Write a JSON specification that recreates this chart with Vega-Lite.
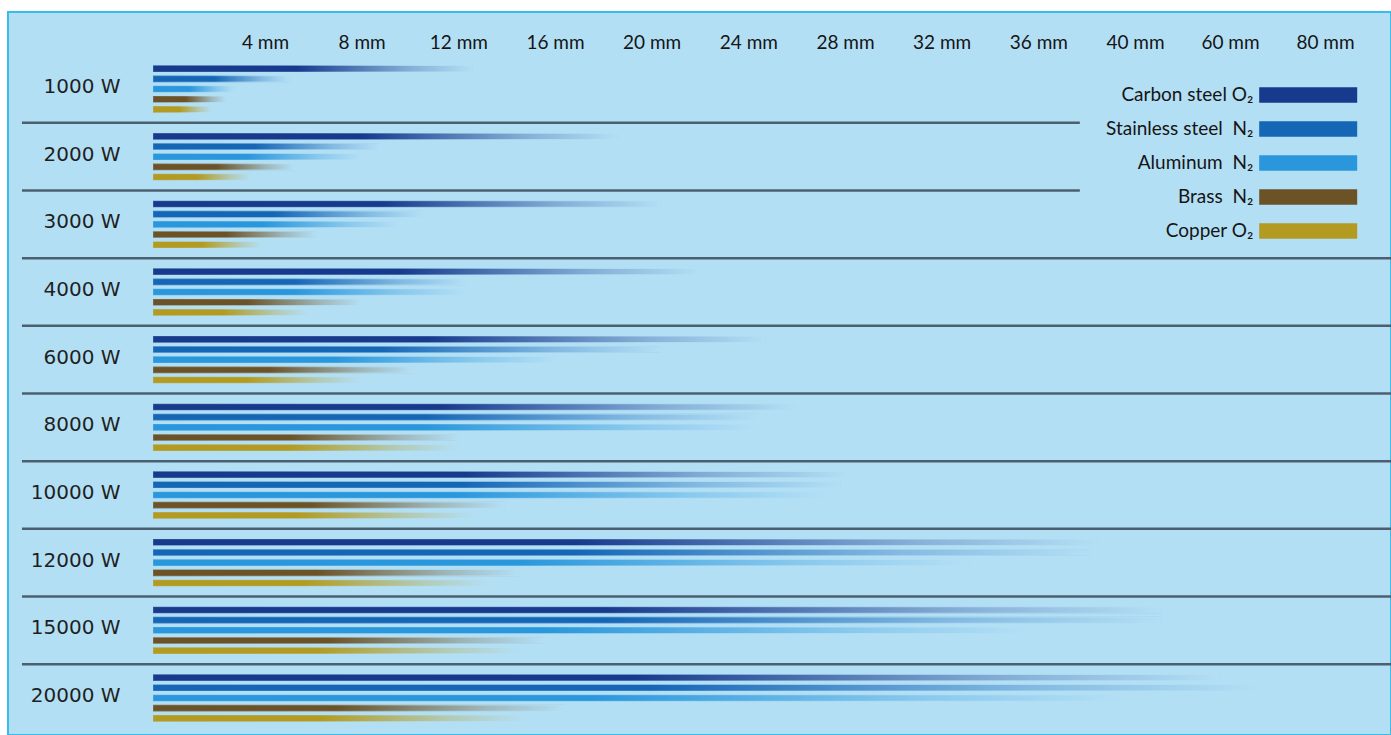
{
  "$schema": "https://vega.github.io/schema/vega-lite/v6.json",
  "width": 1383,
  "height": 723,
  "autosize": {"type": "none"},
  "padding": {"left": 8, "top": 12, "right": 0, "bottom": 0},
  "background": "white",
  "config": {
    "view": {"fill": "#b3dff5", "stroke": "#38bce9", "strokeWidth": 2},
    "axis": {"domain": false, "ticks": false, "grid": false, "title": null}
  },
  "datasets": {
    "cuts": [
      {"power": "1000 W", "material": "Carbon steel O\u2082", "mm": 12.6},
      {"power": "1000 W", "material": "Stainless steel\u00a0 N\u2082", "mm": 5.0},
      {"power": "1000 W", "material": "Aluminum\u00a0 N\u2082", "mm": 2.9},
      {"power": "1000 W", "material": "Brass\u00a0 N\u2082", "mm": 2.6},
      {"power": "1000 W", "material": "Copper O\u2082", "mm": 2.1},
      {"power": "2000 W", "material": "Carbon steel O\u2082", "mm": 18.6},
      {"power": "2000 W", "material": "Stainless steel\u00a0 N\u2082", "mm": 8.7},
      {"power": "2000 W", "material": "Aluminum\u00a0 N\u2082", "mm": 8.0},
      {"power": "2000 W", "material": "Brass\u00a0 N\u2082", "mm": 5.2},
      {"power": "2000 W", "material": "Copper O\u2082", "mm": 3.5},
      {"power": "3000 W", "material": "Carbon steel O\u2082", "mm": 20.4},
      {"power": "3000 W", "material": "Stainless steel\u00a0 N\u2082", "mm": 10.5},
      {"power": "3000 W", "material": "Aluminum\u00a0 N\u2082", "mm": 9.5},
      {"power": "3000 W", "material": "Brass\u00a0 N\u2082", "mm": 6.1},
      {"power": "3000 W", "material": "Copper O\u2082", "mm": 3.9},
      {"power": "4000 W", "material": "Carbon steel O\u2082", "mm": 22.0},
      {"power": "4000 W", "material": "Stainless steel\u00a0 N\u2082", "mm": 12.3},
      {"power": "4000 W", "material": "Aluminum\u00a0 N\u2082", "mm": 12.3},
      {"power": "4000 W", "material": "Brass\u00a0 N\u2082", "mm": 8.0},
      {"power": "4000 W", "material": "Copper O\u2082", "mm": 5.8},
      {"power": "6000 W", "material": "Carbon steel O\u2082", "mm": 24.7},
      {"power": "6000 W", "material": "Stainless steel\u00a0 N\u2082", "mm": 20.4},
      {"power": "6000 W", "material": "Aluminum\u00a0 N\u2082", "mm": 16.1},
      {"power": "6000 W", "material": "Brass\u00a0 N\u2082", "mm": 10.1},
      {"power": "6000 W", "material": "Copper O\u2082", "mm": 8.0},
      {"power": "8000 W", "material": "Carbon steel O\u2082", "mm": 25.9},
      {"power": "8000 W", "material": "Stainless steel\u00a0 N\u2082", "mm": 24.4},
      {"power": "8000 W", "material": "Aluminum\u00a0 N\u2082", "mm": 24.3},
      {"power": "8000 W", "material": "Brass\u00a0 N\u2082", "mm": 12.0},
      {"power": "8000 W", "material": "Copper O\u2082", "mm": 12.0},
      {"power": "10000 W", "material": "Carbon steel O\u2082", "mm": 28.1},
      {"power": "10000 W", "material": "Stainless steel\u00a0 N\u2082", "mm": 27.8},
      {"power": "10000 W", "material": "Aluminum\u00a0 N\u2082", "mm": 27.2},
      {"power": "10000 W", "material": "Brass\u00a0 N\u2082", "mm": 13.9},
      {"power": "10000 W", "material": "Copper O\u2082", "mm": 12.7},
      {"power": "12000 W", "material": "Carbon steel O\u2082", "mm": 38.4},
      {"power": "12000 W", "material": "Stainless steel\u00a0 N\u2082", "mm": 38.1},
      {"power": "12000 W", "material": "Aluminum\u00a0 N\u2082", "mm": 33.1},
      {"power": "12000 W", "material": "Brass\u00a0 N\u2082", "mm": 14.5},
      {"power": "12000 W", "material": "Copper O\u2082", "mm": 13.3},
      {"power": "15000 W", "material": "Carbon steel O\u2082", "mm": 45.5},
      {"power": "15000 W", "material": "Stainless steel\u00a0 N\u2082", "mm": 45.5},
      {"power": "15000 W", "material": "Aluminum\u00a0 N\u2082", "mm": 35.6},
      {"power": "15000 W", "material": "Brass\u00a0 N\u2082", "mm": 15.5},
      {"power": "15000 W", "material": "Copper O\u2082", "mm": 14.5},
      {"power": "20000 W", "material": "Carbon steel O\u2082", "mm": 57.7},
      {"power": "20000 W", "material": "Stainless steel\u00a0 N\u2082", "mm": 65.7},
      {"power": "20000 W", "material": "Aluminum\u00a0 N\u2082", "mm": 39.5},
      {"power": "20000 W", "material": "Brass\u00a0 N\u2082", "mm": 16.4},
      {"power": "20000 W", "material": "Copper O\u2082", "mm": 14.8}
    ],
    "seps": [
      {"power": "1000 W", "from": 0.0101, "to": 0.775},
      {"power": "2000 W", "from": 0.0101, "to": 0.775},
      {"power": "3000 W", "from": 0.0101, "to": 1},
      {"power": "4000 W", "from": 0.0101, "to": 1},
      {"power": "6000 W", "from": 0.0101, "to": 1},
      {"power": "8000 W", "from": 0.0101, "to": 1},
      {"power": "10000 W", "from": 0.0101, "to": 1},
      {"power": "12000 W", "from": 0.0101, "to": 1},
      {"power": "15000 W", "from": 0.0101, "to": 1}
    ]
  },
  "layer": [
    {
      "data": {"name": "cuts"},
      "mark": {"type": "bar"},
      "encoding": {
        "y": {
          "field": "power", "type": "nominal", "sort": null,
          "scale": {"domain": ["1000 W","2000 W","3000 W","4000 W","6000 W","8000 W","10000 W","12000 W","15000 W","20000 W"], "range": [43.2, 719.8], "paddingInner": 0, "paddingOuter": 0},
          "axis": {"orient": "left", "offset": -117, "labelPadding": 5, "labelFont": "DejaVu Sans", "labelFontSize": 20, "labelColor": "#1f1f1f", "labelBaseline": "middle", "labelOffset": -2}
        },
        "yOffset": {
          "field": "material", "type": "nominal", "sort": null,
          "scale": {"domain": ["Carbon steel O\u2082","Stainless steel\u00a0 N\u2082","Aluminum\u00a0 N\u2082","Brass\u00a0 N\u2082","Copper O\u2082"], "paddingInner": 0.35, "paddingOuter": 1.43}
        },
        "x": {
          "field": "mm", "type": "quantitative",
          "scale": {"domain": [0, 4, 40, 60, 80], "range": [145, 257, 1127, 1222, 1317], "nice": false, "zero": false},
          "axis": {"orient": "top", "offset": -30, "labelPadding": 0, "labelBaseline": "middle", "values": [4,8,12,16,20,24,28,32,36,40,60,80], "labelExpr": "datum.value + ' mm'", "labelFont": "Lato", "labelFontSize": 19, "labelColor": "#151515", "labelFlush": false, "labelOverlap": false}
        },
        "color": {
          "field": "material", "type": "nominal", "sort": null,
          "scale": {"domain": ["Carbon steel O\u2082","Stainless steel\u00a0 N\u2082","Aluminum\u00a0 N\u2082","Brass\u00a0 N\u2082","Copper O\u2082"], "range": ["#183a8d", "#1666b6", "#2a97dc", "#6c5327", "#b39b21"]},
          "legend": {"orient": "none", "legendX": 1283.7, "legendY": 66.5, "direction": "vertical", "title": null, "symbolType": "M-3,-0.48H3V0.48H-3Z", "symbolSize": 1067, "symbolStrokeWidth": 0, "rowPadding": 7, "labelAlign": "right", "labelOffset": -71.4, "labelFont": "Lato", "labelFontSize": 19, "labelColor": "#151515", "labelLimit": 0, "padding": 0}
        }
      }
    },
    {
      "data": {"name": "cuts"},
      "mark": {
        "type": "bar",
        "strokeWidth": 1.2,
        "fill": {"gradient": "linear", "x1": 0, "y1": 0, "x2": 1, "y2": 0, "stops": [
          {"offset": 0, "color": "rgba(179,223,245,0)"},
          {"offset": 0.45, "color": "rgba(179,223,245,0)"},
          {"offset": 0.8, "color": "rgba(179,223,245,0.7)"},
          {"offset": 1, "color": "rgba(179,223,245,1)"}
        ]},
        "stroke": {"gradient": "linear", "x1": 0, "y1": 0, "x2": 1, "y2": 0, "stops": [
          {"offset": 0, "color": "rgba(179,223,245,0.25)"},
          {"offset": 0.45, "color": "rgba(179,223,245,0.4)"},
          {"offset": 0.8, "color": "rgba(179,223,245,0.85)"},
          {"offset": 1, "color": "rgba(179,223,245,1)"}
        ]}
      },
      "encoding": {
        "y": {"field": "power", "type": "nominal", "sort": null},
        "yOffset": {"field": "material", "type": "nominal", "sort": null},
        "x": {
          "field": "mm", "type": "quantitative",
          "scale": {"domain": [0, 4, 40, 60, 80], "range": [145, 257, 1127, 1222, 1317], "nice": false, "zero": false},
          "axis": null
        }
      }
    },
    {
      "data": {"name": "seps"},
      "mark": {"type": "rule", "stroke": "#4a6070", "strokeWidth": 2.5},
      "encoding": {
        "y": {"field": "power", "type": "nominal", "sort": null, "bandPosition": 1},
        "x": {"field": "from", "type": "quantitative", "scale": {"domain": [0, 1], "nice": false, "zero": false}, "axis": null},
        "x2": {"field": "to"}
      }
    }
  ],
  "resolve": {"scale": {"x": "independent"}}
}
